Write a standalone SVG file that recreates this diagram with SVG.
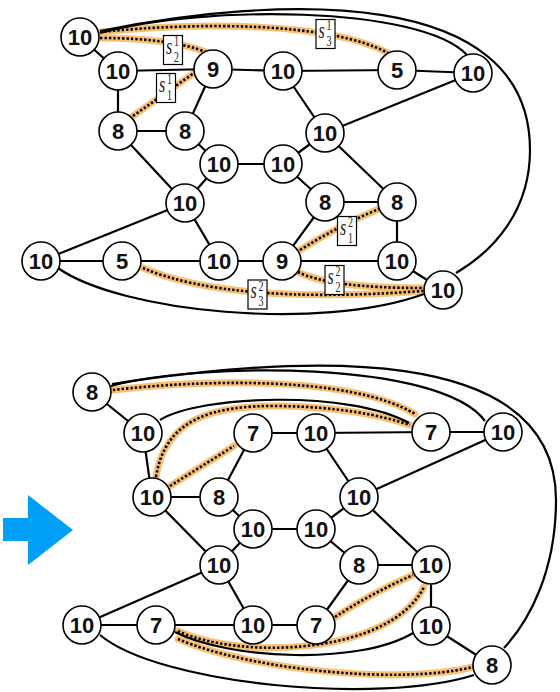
<svg xmlns="http://www.w3.org/2000/svg" width="560" height="692" viewBox="0 0 560 692">
<defs>
<style>
.e{fill:none;stroke:#000;stroke-width:2.2}
.g{fill:none;stroke:#f7b55a;stroke-width:7;stroke-opacity:0.85;stroke-linecap:round}
.d{fill:none;stroke:#000;stroke-width:2.6;stroke-dasharray:2.4 2}
.n circle{fill:#fff;stroke:#000;stroke-width:1.6}
.n text{font-family:"Liberation Sans",Arial,sans-serif;font-weight:bold;font-size:22px;text-anchor:middle;fill:#111}
.lb rect{fill:#fff;stroke:#000;stroke-width:1.2}
.lb text{font-family:"Liberation Serif","Times New Roman",serif;fill:#222;font-size:10px}
.lb .s{font-style:italic;font-size:16px}
</style>
</defs>
<rect width="560" height="692" fill="#fff"/>
<polygon points="3,518 28,518 28,495 73,530 28,565 28,541 3,541" fill="#00a0f8"/>
<g id="connectors">
<g id="glows">
<path class="g" d="M100 32 C200 22 330 22 388 53"/>
<path class="g" d="M100 38 Q170 38 206 52"/>
<path class="g" d="M133 116 L194 73"/>
<path class="g" d="M300 250 Q340 225 379 209"/>
<path class="g" d="M298 272 Q330 288 423 288"/>
<path class="g" d="M143 268 Q230 305 423 291"/>
<path class="g" d="M113 390 C200 380 350 375 415 414"/>
<path class="g" d="M156 477 C165 420 210 405 280 406 C340 407 380 415 410 425"/>
<path class="g" d="M170 486 L234 446"/>
<path class="g" d="M178 631 C240 660 390 655 424 587"/>
<path class="g" d="M178 639 C250 670 400 685 473 667"/>
<path class="g" d="M335 617 Q372 593 413 575"/>
</g>
<line class="e" x1="80" y1="37" x2="118" y2="71"/>
<line class="e" x1="118" y1="71" x2="213" y2="69"/>
<line class="e" x1="213" y1="69" x2="283" y2="71"/>
<line class="e" x1="283" y1="71" x2="397" y2="70"/>
<line class="e" x1="397" y1="70" x2="473" y2="73"/>
<line class="e" x1="118" y1="71" x2="118" y2="131"/>
<line class="e" x1="213" y1="69" x2="185" y2="131"/>
<line class="e" x1="118" y1="131" x2="185" y2="131"/>
<line class="e" x1="283" y1="71" x2="325" y2="133"/>
<line class="e" x1="325" y1="133" x2="473" y2="73"/>
<line class="e" x1="185" y1="131" x2="219" y2="164"/>
<line class="e" x1="219" y1="164" x2="283" y2="164"/>
<line class="e" x1="283" y1="164" x2="325" y2="133"/>
<line class="e" x1="325" y1="133" x2="397" y2="202"/>
<line class="e" x1="118" y1="131" x2="185" y2="203"/>
<line class="e" x1="219" y1="164" x2="185" y2="203"/>
<line class="e" x1="185" y1="203" x2="41" y2="261"/>
<line class="e" x1="185" y1="203" x2="219" y2="261"/>
<line class="e" x1="41" y1="261" x2="122" y2="261"/>
<line class="e" x1="122" y1="261" x2="219" y2="261"/>
<line class="e" x1="219" y1="261" x2="282" y2="261"/>
<line class="e" x1="283" y1="164" x2="325" y2="202"/>
<line class="e" x1="325" y1="202" x2="397" y2="202"/>
<line class="e" x1="325" y1="202" x2="282" y2="261"/>
<line class="e" x1="397" y1="202" x2="397" y2="261"/>
<line class="e" x1="282" y1="261" x2="397" y2="261"/>
<line class="e" x1="397" y1="261" x2="443" y2="290"/>
<path class="e" d="M100 33 C200 5 420 5 467 55"/>
<path class="e" d="M100 31 C280 -5 530 -15 530 150 C530 210 495 250 456 273"/>
<path class="e" d="M58 268 C120 312 320 332 424 294"/>
<line class="e" x1="92" y1="392" x2="143" y2="433"/>
<line class="e" x1="143" y1="433" x2="152" y2="497"/>
<line class="e" x1="253" y1="433" x2="316" y2="433"/>
<line class="e" x1="316" y1="433" x2="431" y2="432"/>
<line class="e" x1="431" y1="432" x2="503" y2="432"/>
<line class="e" x1="253" y1="433" x2="219" y2="497"/>
<line class="e" x1="152" y1="497" x2="219" y2="497"/>
<line class="e" x1="316" y1="433" x2="359" y2="497"/>
<line class="e" x1="359" y1="497" x2="503" y2="432"/>
<line class="e" x1="152" y1="497" x2="219" y2="565"/>
<line class="e" x1="219" y1="497" x2="253" y2="529"/>
<line class="e" x1="253" y1="529" x2="316" y2="529"/>
<line class="e" x1="253" y1="529" x2="219" y2="565"/>
<line class="e" x1="316" y1="529" x2="359" y2="497"/>
<line class="e" x1="359" y1="497" x2="431" y2="565"/>
<line class="e" x1="316" y1="529" x2="359" y2="565"/>
<line class="e" x1="359" y1="565" x2="431" y2="565"/>
<line class="e" x1="359" y1="565" x2="316" y2="625"/>
<line class="e" x1="219" y1="565" x2="82" y2="625"/>
<line class="e" x1="219" y1="565" x2="253" y2="625"/>
<line class="e" x1="82" y1="625" x2="156" y2="625"/>
<line class="e" x1="156" y1="625" x2="253" y2="625"/>
<line class="e" x1="253" y1="625" x2="316" y2="625"/>
<line class="e" x1="431" y1="565" x2="431" y2="626"/>
<line class="e" x1="431" y1="626" x2="492" y2="665"/>
<path class="e" d="M111 386 C200 362 440 360 485 421"/>
<path class="e" d="M112 384 C300 355 556 340 556 500 C556 570 530 620 504 648"/>
<path class="e" d="M160 420 C200 395 350 390 409 423"/>
<path class="e" d="M100 635 C160 685 380 705 474 675"/>
<path class="e" d="M175 632 C230 660 360 665 413 633"/>
<path class="d" d="M100 32 C200 22 330 22 388 53"/>
<path class="d" d="M100 38 Q170 38 206 52"/>
<path class="d" d="M133 116 L194 73"/>
<path class="d" d="M300 250 Q340 225 379 209"/>
<path class="d" d="M298 272 Q330 288 423 288"/>
<path class="d" d="M143 268 Q230 305 423 291"/>
<path class="d" d="M113 390 C200 380 350 375 415 414"/>
<path class="d" d="M156 477 C165 420 210 405 280 406 C340 407 380 415 410 425"/>
<path class="d" d="M170 486 L234 446"/>
<path class="d" d="M178 631 C240 660 390 655 424 587"/>
<path class="d" d="M178 639 C250 670 400 685 473 667"/>
<path class="d" d="M335 617 Q372 593 413 575"/>
</g>
<g id="A" class="n"><circle cx="80" cy="37" r="19"/><text x="80" y="45">10</text></g>
<g id="B" class="n"><circle cx="118" cy="71" r="19"/><text x="118" y="79">10</text></g>
<g id="C" class="n"><circle cx="213" cy="69" r="19"/><text x="213" y="77">9</text></g>
<g id="D" class="n"><circle cx="283" cy="71" r="19"/><text x="283" y="79">10</text></g>
<g id="E" class="n"><circle cx="397" cy="70" r="19"/><text x="397" y="78">5</text></g>
<g id="F" class="n"><circle cx="473" cy="73" r="19"/><text x="473" y="81">10</text></g>
<g id="G" class="n"><circle cx="118" cy="131" r="19"/><text x="118" y="139">8</text></g>
<g id="H" class="n"><circle cx="185" cy="131" r="19"/><text x="185" y="139">8</text></g>
<g id="I" class="n"><circle cx="325" cy="133" r="19"/><text x="325" y="141">10</text></g>
<g id="J" class="n"><circle cx="219" cy="164" r="19"/><text x="219" y="172">10</text></g>
<g id="K" class="n"><circle cx="283" cy="164" r="19"/><text x="283" y="172">10</text></g>
<g id="L" class="n"><circle cx="185" cy="203" r="19"/><text x="185" y="211">10</text></g>
<g id="M" class="n"><circle cx="325" cy="202" r="19"/><text x="325" y="210">8</text></g>
<g id="N" class="n"><circle cx="397" cy="202" r="19"/><text x="397" y="210">8</text></g>
<g id="O" class="n"><circle cx="41" cy="261" r="19"/><text x="41" y="269">10</text></g>
<g id="P" class="n"><circle cx="122" cy="261" r="19"/><text x="122" y="269">5</text></g>
<g id="Q" class="n"><circle cx="219" cy="261" r="19"/><text x="219" y="269">10</text></g>
<g id="R" class="n"><circle cx="282" cy="261" r="19"/><text x="282" y="269">9</text></g>
<g id="S" class="n"><circle cx="397" cy="261" r="19"/><text x="397" y="269">10</text></g>
<g id="T" class="n"><circle cx="443" cy="290" r="19"/><text x="443" y="298">10</text></g>
<g id="a" class="n"><circle cx="92" cy="392" r="19"/><text x="92" y="400">8</text></g>
<g id="b" class="n"><circle cx="143" cy="433" r="19"/><text x="143" y="441">10</text></g>
<g id="c" class="n"><circle cx="253" cy="433" r="19"/><text x="253" y="441">7</text></g>
<g id="d" class="n"><circle cx="316" cy="433" r="19"/><text x="316" y="441">10</text></g>
<g id="g" class="n"><circle cx="431" cy="432" r="19"/><text x="431" y="440">7</text></g>
<g id="h" class="n"><circle cx="503" cy="432" r="19"/><text x="503" y="440">10</text></g>
<g id="e" class="n"><circle cx="152" cy="497" r="19"/><text x="152" y="505">10</text></g>
<g id="f" class="n"><circle cx="219" cy="497" r="19"/><text x="219" y="505">8</text></g>
<g id="i" class="n"><circle cx="359" cy="497" r="19"/><text x="359" y="505">10</text></g>
<g id="k" class="n"><circle cx="253" cy="529" r="19"/><text x="253" y="537">10</text></g>
<g id="q" class="n"><circle cx="316" cy="529" r="19"/><text x="316" y="537">10</text></g>
<g id="l" class="n"><circle cx="219" cy="565" r="19"/><text x="219" y="573">10</text></g>
<g id="r" class="n"><circle cx="359" cy="565" r="19"/><text x="359" y="573">8</text></g>
<g id="s" class="n"><circle cx="431" cy="565" r="19"/><text x="431" y="573">10</text></g>
<g id="m" class="n"><circle cx="82" cy="625" r="19"/><text x="82" y="633">10</text></g>
<g id="n" class="n"><circle cx="156" cy="625" r="19"/><text x="156" y="633">7</text></g>
<g id="o" class="n"><circle cx="253" cy="625" r="19"/><text x="253" y="633">10</text></g>
<g id="t" class="n"><circle cx="316" cy="625" r="19"/><text x="316" y="633">7</text></g>
<g id="u" class="n"><circle cx="431" cy="626" r="19"/><text x="431" y="634">10</text></g>
<g id="v" class="n"><circle cx="492" cy="665" r="19"/><text x="492" y="673">8</text></g>
<g id="lab-s21" class="lb" transform="translate(163.5,35.5)"><rect width="19" height="29"/><g transform="scale(1,1.4)"><text class="s" x="2.5" y="13">s</text><text x="10.5" y="7.5">1</text><text x="10.5" y="18.8">2</text></g></g>
<g id="lab-s11" class="lb" transform="translate(156.5,73.5)"><rect width="19" height="29"/><g transform="scale(1,1.4)"><text class="s" x="2.5" y="13">s</text><text x="10.5" y="7.5">1</text><text x="10.5" y="18.8">1</text></g></g>
<g id="lab-s31" class="lb" transform="translate(316,19.5)"><rect width="19" height="29"/><g transform="scale(1,1.4)"><text class="s" x="2.5" y="13">s</text><text x="10.5" y="7.5">1</text><text x="10.5" y="18.8">3</text></g></g>
<g id="lab-s12" class="lb" transform="translate(337.5,216.5)"><rect width="19" height="29"/><g transform="scale(1,1.4)"><text class="s" x="2.5" y="13">s</text><text x="10.5" y="7.5">2</text><text x="10.5" y="18.8">1</text></g></g>
<g id="lab-s22" class="lb" transform="translate(325,265.5)"><rect width="19" height="29"/><g transform="scale(1,1.4)"><text class="s" x="2.5" y="13">s</text><text x="10.5" y="7.5">2</text><text x="10.5" y="18.8">2</text></g></g>
<g id="lab-s32" class="lb" transform="translate(248,280)"><rect width="19" height="29"/><g transform="scale(1,1.4)"><text class="s" x="2.5" y="13">s</text><text x="10.5" y="7.5">2</text><text x="10.5" y="18.8">3</text></g></g>
</svg>
